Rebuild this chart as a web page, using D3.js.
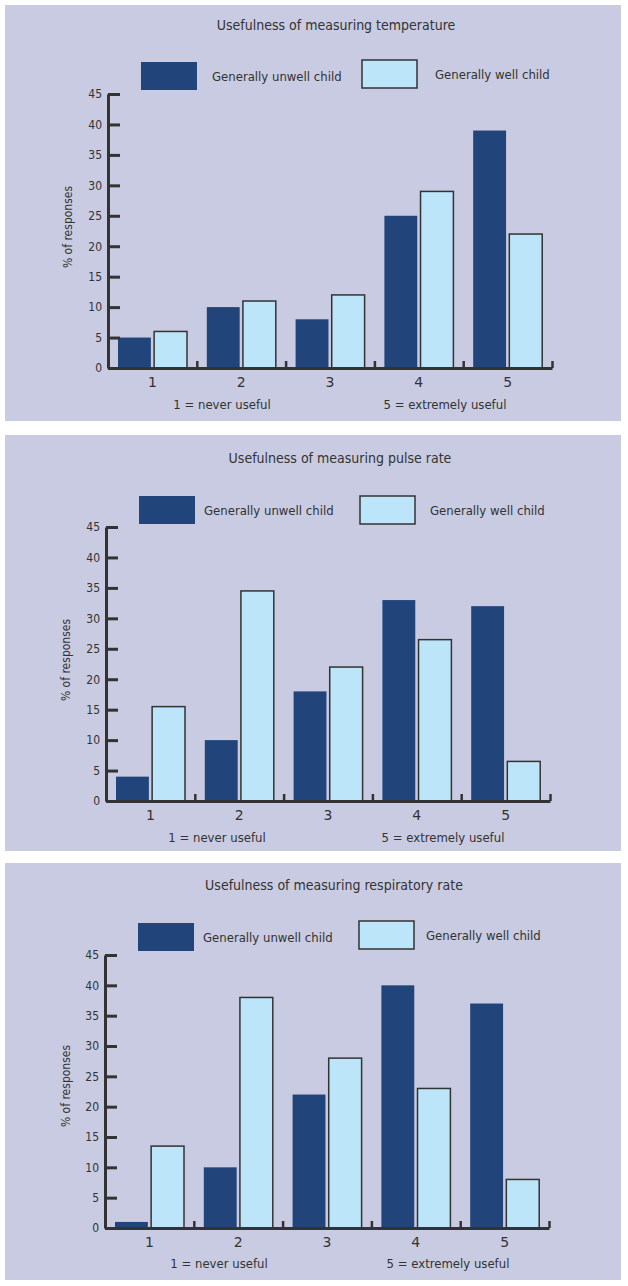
<!DOCTYPE html>
<html>
<head>
<meta charset="utf-8">
<script src="https://cdn.jsdelivr.net/npm/d3@7"></script>
<style>
  body { margin: 0; background: #fff; }
  svg { display: block; }
  text { font-family: "Liberation Sans Narrow", "DejaVu Sans Condensed", sans-serif; fill: #333; }
</style>
</head>
<body>
<script>
(function() {
  'use strict';

  // data
  var categories = ["1", "2", "3", "4", "5"];
  var series = ["Generally unwell child", "Generally well child"];
  var titles = [
    "Usefulness of measuring temperature",
    "Usefulness of measuring pulse rate",
    "Usefulness of measuring respiratory rate"
  ];
  var unwellValues = [
    [5, 10, 8, 25, 39],
    [4, 10, 18, 33, 32],
    [1, 10, 22, 40, 37]
  ];
  var wellValues = [
    [6, 11, 12, 29, 22],
    [15.5, 34.5, 22, 26.5, 6.5],
    [13.5, 38, 28, 23, 8]
  ];
  var yTicks = [0, 5, 10, 15, 20, 25, 30, 35, 40, 45];
  var yLabel = "% of responses";
  var footLeft = "1 = never useful";
  var footRight = "5 = extremely useful";

  // layout per panel
  var panels = [
    { top: 5,   bottom: 421,  yTop: 94,  yZero: 368,  xLeft: 108, titleX: 336, titleY: 25,
      lg: [141, 62, 212, 362, 60, 435], foot: [222, 445, 404], ylab: [68, 227] },
    { top: 435, bottom: 851,  yTop: 527, yZero: 801,  xLeft: 106, titleX: 340, titleY: 458,
      lg: [139, 496, 204, 360, 496, 430], foot: [217, 443, 837], ylab: [66, 660] },
    { top: 863, bottom: 1280, yTop: 955, yZero: 1228, xLeft: 105, titleX: 334, titleY: 885,
      lg: [138, 923, 203, 359, 921, 426], foot: [219, 448, 1263], ylab: [66, 1086] }
  ];

  var dark = "#21457a", light = "#bde5f9", ink = "#333333", bg = "#c8cbe1";
  var bandW = 88.8;

  var svg = d3.select("body")
    .append("svg")
      .attr("width", 628)
      .attr("height", 1286);

  panels.forEach(function(p, i) {
    var g = svg.append("g");

    g.append("rect")
      .attr("x", 5).attr("y", p.top)
      .attr("width", 616).attr("height", p.bottom - p.top)
      .style("fill", bg);

    g.append("text")
      .attr("x", p.titleX).attr("y", p.titleY)
      .attr("dy", "0.35em")
      .attr("text-anchor", "middle")
      .style("font-size", "14px")
      .text(titles[i]);

    // legend
    g.append("rect")
      .attr("x", p.lg[0]).attr("y", p.lg[1])
      .attr("width", 56).attr("height", 28)
      .style("fill", dark);
    g.append("text")
      .attr("x", p.lg[2]).attr("y", p.lg[1] + 14)
      .attr("dy", "0.35em")
      .style("font-size", "13px")
      .text(series[0]);
    g.append("rect")
      .attr("x", p.lg[3]).attr("y", p.lg[4])
      .attr("width", 55).attr("height", 28)
      .style("fill", light)
      .style("stroke", ink)
      .style("stroke-width", 1.5);
    g.append("text")
      .attr("x", p.lg[5]).attr("y", p.lg[4] + 14)
      .attr("dy", "0.35em")
      .style("font-size", "13px")
      .text(series[1]);

    var x = d3.scaleBand()
      .domain(categories)
      .range([p.xLeft, p.xLeft + bandW * categories.length]);
    var xs = d3.scaleBand()
      .domain(["unwell", "well"])
      .range([10, 79])
      .paddingInner(0.09);
    var y = d3.scaleLinear()
      .domain([0, 45])
      .range([p.yZero, p.yTop]);

    // bars
    g.selectAll(".unwell")
      .data(unwellValues[i])
      .enter().append("rect")
        .attr("class", "unwell")
        .attr("x", function(d, j) { return x(categories[j]) + xs("unwell"); })
        .attr("y", function(d) { return y(d); })
        .attr("width", xs.bandwidth())
        .attr("height", function(d) { return y(0) - y(d); })
        .style("fill", dark);

    g.selectAll(".well")
      .data(wellValues[i])
      .enter().append("rect")
        .attr("class", "well")
        .attr("x", function(d, j) { return x(categories[j]) + xs("well"); })
        .attr("y", function(d) { return y(d); })
        .attr("width", xs.bandwidth())
        .attr("height", function(d) { return y(0) - y(d); })
        .style("fill", light)
        .style("stroke", ink)
        .style("stroke-width", 1.5);

    // y axis
    var yAxis = g.append("g")
      .attr("transform", "translate(" + p.xLeft + ",0)")
      .call(d3.axisLeft(y).tickValues(yTicks).tickSizeInner(-12).tickSizeOuter(0).tickPadding(6));
    yAxis.select(".domain").style("stroke", ink).style("stroke-width", 3);
    yAxis.selectAll(".tick line").style("stroke", ink).style("stroke-width", 3);
    yAxis.selectAll(".tick text")
      .style("font-family", "'Liberation Sans Narrow', 'DejaVu Sans Condensed', sans-serif")
      .style("font-size", "12px")
      .style("fill", ink);

    // x axis: boundary ticks
    var xb = d3.scaleLinear()
      .domain([0, categories.length])
      .range(x.range());
    var xAxis = g.append("g")
      .attr("transform", "translate(0," + p.yZero + ")")
      .call(d3.axisBottom(xb).tickValues(d3.range(1, categories.length + 1)).tickSizeInner(-7).tickSizeOuter(0).tickFormat(""));
    xAxis.select(".domain").style("stroke", ink).style("stroke-width", 3);
    xAxis.selectAll(".tick line").style("stroke", ink).style("stroke-width", 2.5);

    // x axis: category labels
    var xLab = g.append("g")
      .attr("transform", "translate(0," + p.yZero + ")")
      .call(d3.axisBottom(x).tickSize(0).tickPadding(9));
    xLab.select(".domain").remove();
    xLab.selectAll(".tick text")
      .style("font-family", "'DejaVu Sans', sans-serif")
      .style("font-size", "14px")
      .style("fill", ink);

    // axis title
    g.append("text")
      .attr("transform", "translate(" + p.ylab[0] + "," + p.ylab[1] + ") rotate(-90)")
      .attr("text-anchor", "middle")
      .attr("dy", "0.35em")
      .style("font-size", "12px")
      .text(yLabel);

    // footnotes
    g.append("text")
      .attr("x", p.foot[0]).attr("y", p.foot[2])
      .attr("dy", "0.35em")
      .attr("text-anchor", "middle")
      .style("font-size", "13px")
      .text(footLeft);
    g.append("text")
      .attr("x", p.foot[1]).attr("y", p.foot[2])
      .attr("dy", "0.35em")
      .attr("text-anchor", "middle")
      .style("font-size", "13px")
      .text(footRight);
  });

}) ();
</script>
</body>
</html>
